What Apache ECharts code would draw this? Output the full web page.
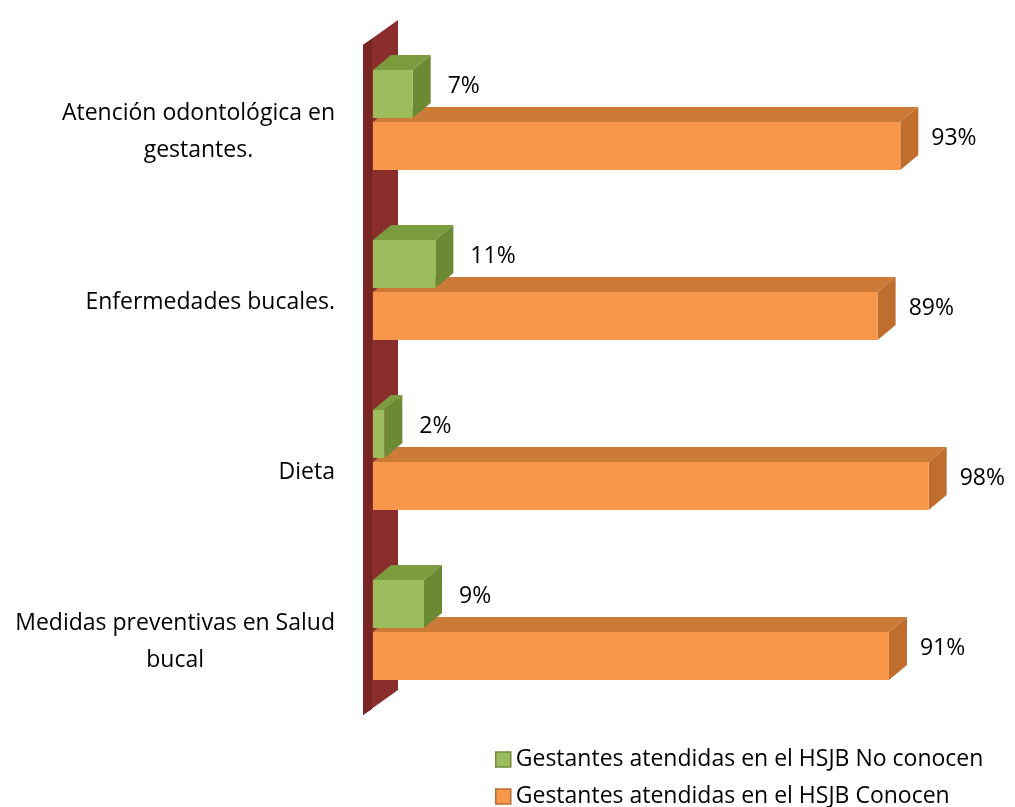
<!DOCTYPE html>
<html>
<head>
<meta charset="utf-8">
<style>
  html, body { margin: 0; padding: 0; background: #ffffff; }
  #chart { width: 1015px; height: 807px; }
</style>
<script src="https://cdn.jsdelivr.net/npm/echarts@6/dist/echarts.min.js"></script>
</head>
<body>
<div id="chart"></div>
<script>
// Topics asked about (top to bottom), with line breaks as shown on the axis
const categories = [
  'Atención odontológica en\ngestantes.',
  'Enfermedades bucales.',
  'Dieta',
  'Medidas preventivas en Salud\nbucal'
];
const seriesNames = [
  'Gestantes atendidas en el HSJB No conocen',
  'Gestantes atendidas en el HSJB Conocen'
];
// Percentages per topic
const noConocen = [7, 11, 2, 9];
const conocen = [93, 89, 98, 91];

const FONT = '"Open Sans", "Noto Sans", sans-serif';
const DX = 18, DY = 15;   // depth offset of the 3D faces

const palette = {
  green:  { front: '#9CBD5B', top: '#7C9B3E', side: '#6C8A33', border: '#71893F' },
  orange: { front: '#F8964A', top: '#CB7A37', side: '#BF6E2D', border: '#B66D31' }
};

// 3D box bar: front rectangle, top face, side face and a value label
function boxRenderer(topFrac, bottomFrac, col, labelGap) {
  return function (params, api) {
    const val = api.value(0);
    const cat = api.value(1);
    const p0 = api.coord([0, cat]);
    const p1 = api.coord([val, cat]);
    const band = api.size([0, 1])[1];
    const x0 = p0[0], x1 = p1[0];
    const y0 = p0[1] + topFrac * band;
    const y1 = p0[1] + bottomFrac * band;
    return {
      type: 'group',
      children: [
        { type: 'polygon', shape: { points: [[x0, y0], [x0 + DX, y0 - DY], [x1 + DX, y0 - DY], [x1, y0]] },
          style: { fill: col.top } },
        { type: 'polygon', shape: { points: [[x1, y0], [x1 + DX, y0 - DY], [x1 + DX, y1 - DY], [x1, y1]] },
          style: { fill: col.side } },
        { type: 'rect', shape: { x: x0, y: y0, width: x1 - x0, height: y1 - y0 },
          style: { fill: col.front } },
        { type: 'text', x: x1 + DX + labelGap, y: (y0 - DY + y1) / 2,
          style: { text: val + '%', fill: '#000', font: '23px ' + FONT,
                   textAlign: 'left', textVerticalAlign: 'middle' } }
      ]
    };
  };
}

// Dark red side wall along the category axis
function wallRenderer(params, api) {
  const cs = params.coordSys;
  const xl = cs.x - 10, xr = cs.x + 25;
  const top = cs.y, bot = cs.y + cs.height;
  return {
    type: 'group',
    children: [
      { type: 'polygon', shape: { points: [[xl, bot], [xl, top + 10], [xr, top - 15], [xr, bot - 25]] },
        style: { fill: '#8A2D2D' } },
      { type: 'polygon', shape: { points: [[xl, bot], [xl, top + 10], [xl + 9, top + 4], [xl + 9, bot - 6]] },
        style: { fill: '#7A2424' } }
    ]
  };
}

function legendBlock(name, col, top) {
  return {
    left: 495,
    top: top,
    padding: 0,
    itemWidth: 15,
    itemHeight: 15,
    icon: 'rect',
    textStyle: { fontSize: 23, fontFamily: FONT, color: '#000' },
    data: [{ name: name, itemStyle: { color: col.front, borderColor: col.border, borderWidth: 1.5 } }]
  };
}

const chart = echarts.init(document.getElementById('chart'), null, { renderer: 'canvas' });

chart.setOption({
  animation: false,
  backgroundColor: '#ffffff',
  grid: { left: 373, right: 75, top: 35, bottom: 92, containLabel: false },
  xAxis: {
    type: 'value', min: 0, max: 100,
    show: false
  },
  yAxis: {
    type: 'category',
    data: categories,
    inverse: true,
    axisLine: { show: false },
    axisTick: { show: false },
    splitLine: { show: false },
    axisLabel: {
      margin: 38,
      padding: [24, 0, 0, 0],
      formatter: function (v) {
        return v.split('\n').map(function (s) { return '{c|' + s + '}'; }).join('\n');
      },
      rich: {
        c: { align: 'center', fontSize: 23, fontFamily: FONT, color: '#000', lineHeight: 37 }
      }
    }
  },
  legend: [
    legendBlock(seriesNames[0], palette.green, 748),
    legendBlock(seriesNames[1], palette.orange, 785)
  ],
  series: [
    {
      type: 'custom',
      name: 'wall',
      silent: true,
      renderItem: wallRenderer,
      data: [[0, 0]],
      encode: { x: 0, y: 1 },
      z: 1
    },
    {
      type: 'custom',
      name: seriesNames[1],
      renderItem: boxRenderer(0.012, 0.294, palette.orange, 13),
      itemStyle: { color: palette.orange.front },
      data: conocen.map(function (v, i) { return [v, i]; }),
      encode: { x: 0, y: 1 },
      z: 2
    },
    {
      type: 'custom',
      name: seriesNames[0],
      renderItem: boxRenderer(-0.294, -0.012, palette.green, 17),
      itemStyle: { color: palette.green.front },
      data: noConocen.map(function (v, i) { return [v, i]; }),
      encode: { x: 0, y: 1 },
      z: 3
    }
  ]
});
</script>
</body>
</html>
